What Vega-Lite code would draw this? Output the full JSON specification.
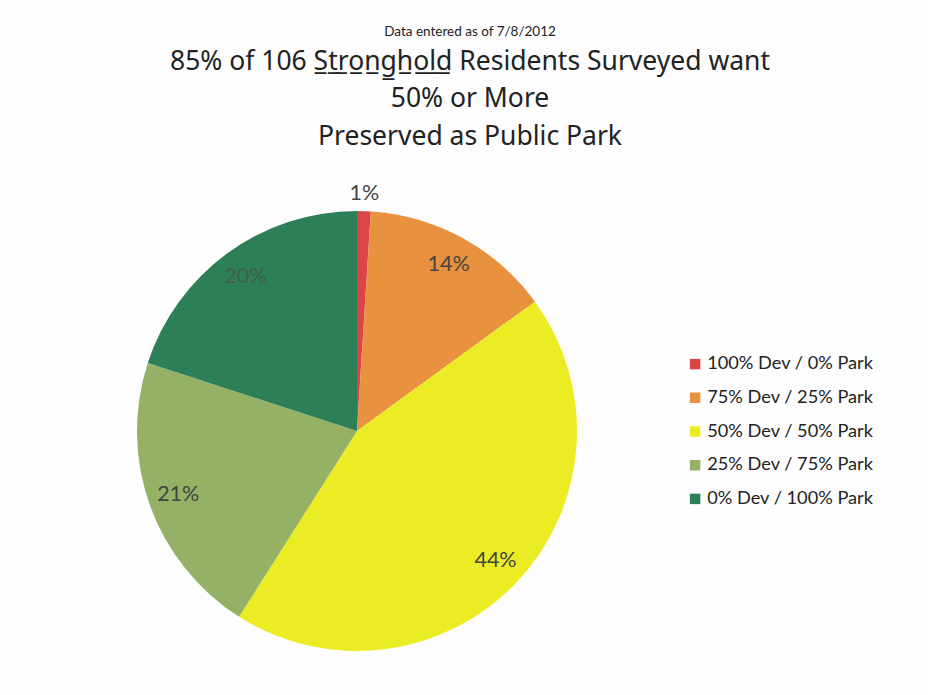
{
  "$schema": "https://vega.github.io/schema/vega-lite/v6.json",
  "width": 440,
  "height": 440,
  "autosize": {"type": "none"},
  "padding": {"left": 137, "top": 211, "right": 351, "bottom": 44},
  "background": "#fdfdfe",
  "title": {
    "text": "Data entered as of 7/8/2012",
    "subtitle": ["85% of 106 S̲t̲r̲o̲n̲g̲h̲o̲l̲d̲ Residents Surveyed want", "50% or More", "Preserved as Public Park"],
    "anchor": "middle",
    "frame": "group",
    "dx": 113,
    "offset": 33,
    "font": "Lato",
    "fontSize": 13.5,
    "fontWeight": "normal",
    "color": "#222222",
    "subtitleFont": "Noto Sans",
    "subtitleFontSize": 26.5,
    "subtitleColor": "#222222",
    "subtitleLineHeight": 37.5,
    "subtitlePadding": 10
  },
  "data": {
    "values": [
      {"idx": 1, "cat": "100% Dev / 0% Park", "pct": 1, "label": "1%"},
      {"idx": 2, "cat": "75% Dev / 25% Park", "pct": 14, "label": "14%"},
      {"idx": 3, "cat": "50% Dev / 50% Park", "pct": 44, "label": "44%"},
      {"idx": 4, "cat": "25% Dev / 75% Park", "pct": 21, "label": "21%"},
      {"idx": 5, "cat": "0% Dev / 100% Park", "pct": 20, "label": "20%"}
    ]
  },
  "encoding": {
    "theta": {"field": "pct", "type": "quantitative", "stack": true},
    "order": {"field": "idx", "type": "quantitative"}
  },
  "layer": [
    {
      "mark": {"type": "arc", "outerRadius": 220},
      "encoding": {
        "color": {
          "field": "cat",
          "type": "nominal",
          "scale": {
            "domain": ["100% Dev / 0% Park", "75% Dev / 25% Park", "50% Dev / 50% Park", "25% Dev / 75% Park", "0% Dev / 100% Park"],
            "range": ["#dc4548", "#e8913e", "#ecec24", "#95b166", "#2d7f57"]
          },
          "legend": {
            "title": null,
            "orient": "none",
            "legendX": 549,
            "legendY": 144,
            "symbolType": "square",
            "symbolSize": 110,
            "symbolStrokeWidth": 0,
            "labelFont": "Lato",
            "labelFontSize": 18.2,
            "labelColor": "#222222",
            "labelLimit": 400,
            "labelOffset": 3,
            "rowPadding": 14.7
          }
        }
      }
    },
    {
      "mark": {
        "type": "text",
        "font": "Lato",
        "fontSize": 21.5,
        "radius": {"expr": "datum.cat === '100% Dev / 0% Park' ? 237 : 190"}
      },
      "encoding": {
        "text": {"field": "label"},
        "color": {
          "condition": {"test": "datum.cat === '0% Dev / 100% Park'", "value": "#3f5e4c"},
          "value": "#444444"
        }
      }
    }
  ]
}
